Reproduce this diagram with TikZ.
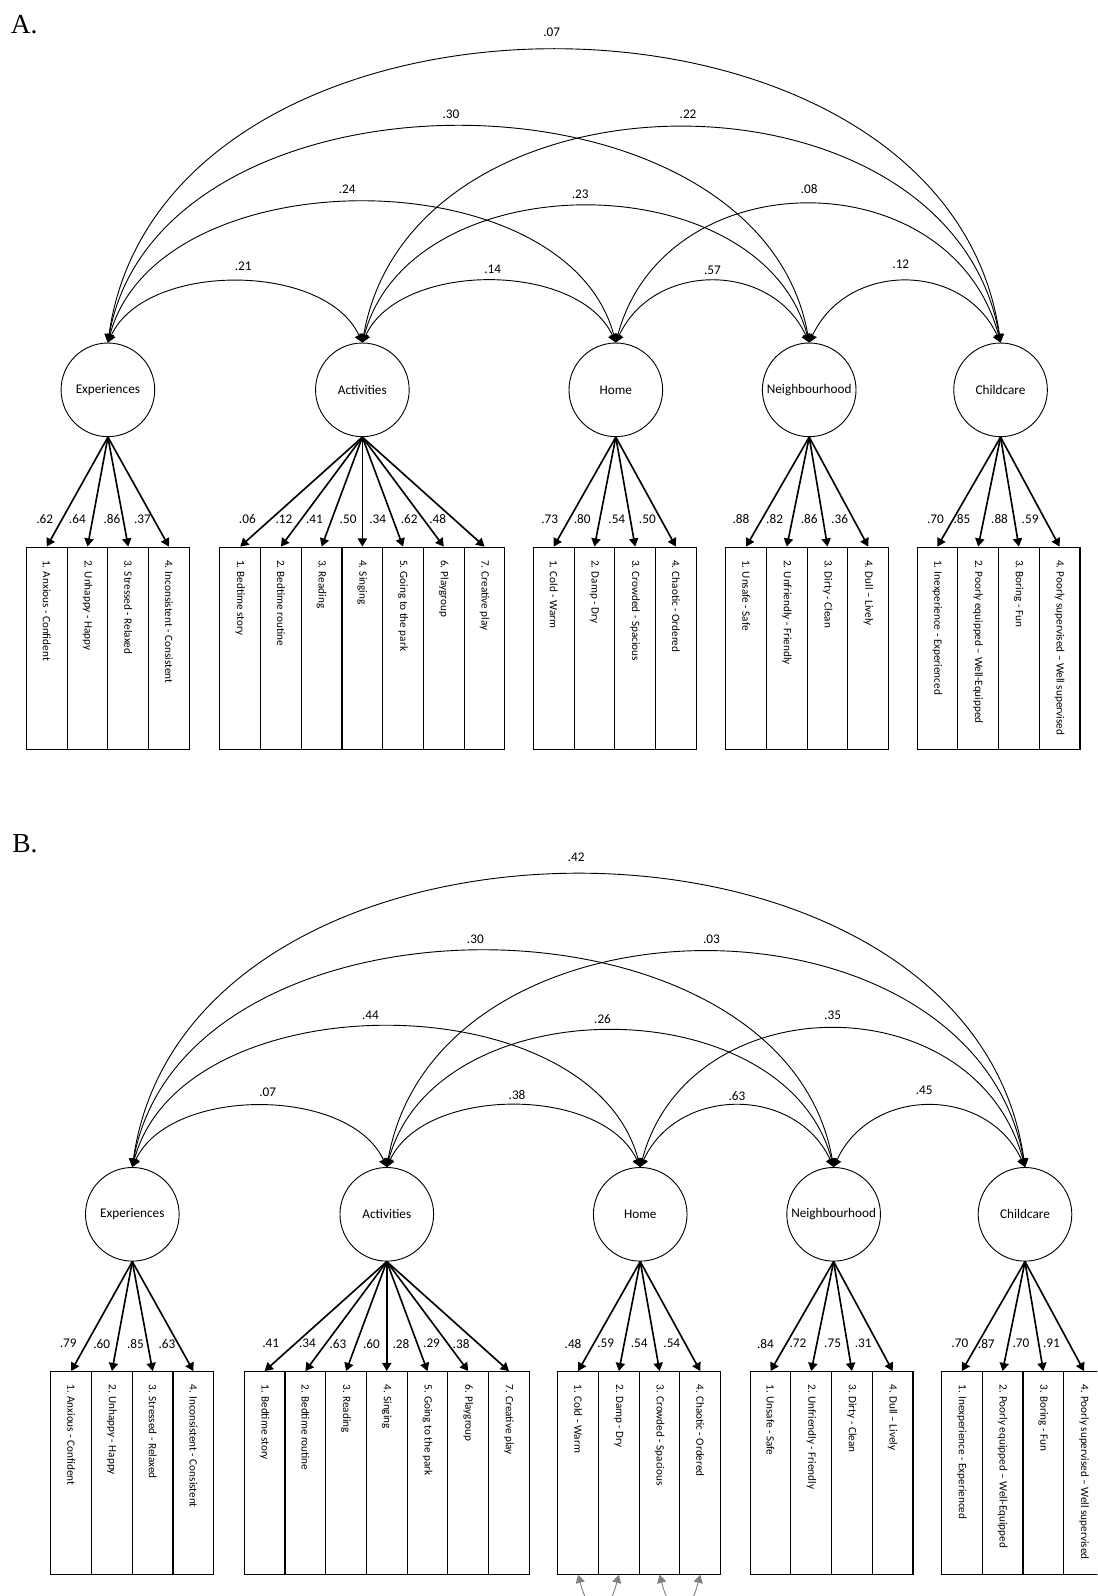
\documentclass[tikz,border=0pt]{standalone}
\usepackage{fontspec}
\setmainfont{Carlito}
\newfontfamily\letterfont{Liberation Serif}
\usetikzlibrary{arrows.meta}

\begin{document}
\begin{tikzpicture}[x=1pt,y=1pt]

\tikzset{latent/.style = {shape=circle,draw,line width=0.9pt,minimum size=92pt,inner sep=0pt,font=\fontsize{13}{15}\selectfont}}
\tikzset{item/.style = {shape=rectangle,draw,line width=1.1pt,minimum width=40pt,minimum height=199pt,anchor=north,inner sep=0pt}}
\tikzset{itemtext/.style = {rotate=-90,anchor=west,inner sep=0pt,font=\fontsize{11}{13}\selectfont}}
\tikzset{coef/.style = {inner sep=0pt,font=\fontsize{13}{15}\selectfont}}
\tikzset{panel/.style = {anchor=base west,inner sep=0pt,font=\letterfont\fontsize{27}{30}\selectfont}}
\tikzset{load/.style = {-{Triangle[length=8pt,width=9pt]},line width=1.6pt}}
\tikzset{cov/.style = {{Triangle[length=8pt,width=9pt]}-{Triangle[length=8pt,width=9pt]},line width=0.9pt}}
\tikzset{resid/.style = {cov,color=gray}}

\useasboundingbox (0,0) rectangle (1078,-1568);
\clip (0,0) rectangle (1078,-1568);

%%%%%%%%%% A.
\node[panel] (labA) at (10.5,-32.5) {A.};

% factors
\node[latent] (Aexp)  at (106,-383) {Experiences};
\node[latent] (Aact)  at (356,-383) {Activities};
\node[latent] (Ahome) at (605,-383) {Home};
\node[latent] (Anbh)  at (795,-383) {Neighbourhood};
\node[latent] (Acare) at (983,-383) {Childcare};

% items
\foreach \txt [count=\i] in {1. Anxious - Confident,2. Unhappy - Happy,3. Stressed - Relaxed,4. Inconsistent - Consistent}{
  \node[item] (Aexp\i) at (6+40*\i,-537) {};
  \node[itemtext] (Aexpt\i) at ([yshift=-13pt]Aexp\i.north) {\txt};
  \draw[load] (Aexp.south) -- (Aexp\i.north);
}
\foreach \txt [count=\i] in {1. Bedtime story,2. Bedtime routine,3. Reading,4. Singing,5. Going to the park,6. Playgroup,7. Creative play}{
  \node[item] (Aact\i) at (196+40*\i,-537) {};
  \node[itemtext] (Aactt\i) at ([yshift=-13pt]Aact\i.north) {\txt};
  \draw[load] (Aact.south) -- (Aact\i.north);
}
\foreach \txt [count=\i] in {1. Cold - Warm,2. Damp - Dry,3. Crowded - Spacious,4. Chaotic - Ordered}{
  \node[item] (Ahome\i) at (504+40*\i,-537) {};
  \node[itemtext] (Ahomet\i) at ([yshift=-13pt]Ahome\i.north) {\txt};
  \draw[load] (Ahome.south) -- (Ahome\i.north);
}
\foreach \txt [count=\i] in {1. Unsafe - Safe,2. Unfriendly - Friendly,3. Dirty - Clean,4. Dull – Lively}{
  \node[item] (Anbh\i) at (693+40*\i,-537) {};
  \node[itemtext] (Anbht\i) at ([yshift=-13pt]Anbh\i.north) {\txt};
  \draw[load] (Anbh.south) -- (Anbh\i.north);
}
\foreach \txt [count=\i] in {1. Inexperience - Experienced,2. Poorly equipped – Well-Equipped,3. Boring - Fun,4. Poorly supervised – Well supervised}{
  \node[item] (Acare\i) at (881+40*\i,-537) {};
  \node[itemtext] (Acaret\i) at ([yshift=-13pt]Acare\i.north) {\txt};
  \draw[load] (Acare.south) -- (Acare\i.north);
}

% loadings
\foreach \x/\val [count=\i] in {44/.62,76/.64,110/.86,140/.37}{\node[coef] (Aexpl\i) at (\x,-510) {\val};}
\foreach \x/\val [count=\i] in {243/.06,279/.12,309/.41,342/.50,371/.34,402/.62,430/.48}{\node[coef] (Aactl\i) at (\x,-510) {\val};}
\foreach \x/\val [count=\i] in {540/.73,572/.80,606/.54,636/.50}{\node[coef] (Ahomel\i) at (\x,-510) {\val};}
\foreach \x/\val [count=\i] in {728/.88,761/.82,795/.86,825/.36}{\node[coef] (Anbhl\i) at (\x,-510) {\val};}
\foreach \x/\val [count=\i] in {919/.70,945/.85,982/.88,1012/.59}{\node[coef] (Acarel\i) at (\x,-510) {\val};}

% covariances
\draw[cov] (Aexp.north) to[out=65,in=115,looseness=0.90] (Aact.north);
\draw[cov] (Aact.north) to[out=65,in=115,looseness=0.91] (Ahome.north);
\draw[cov] (Ahome.north) to[out=65,in=115,looseness=1.19] (Anbh.north);
\draw[cov] (Anbh.north) to[out=65,in=115,looseness=1.20] (Acare.north);
\draw[cov] (Aexp.north) to[out=75,in=105,looseness=0.975] (Ahome.north);
\draw[cov] (Aact.north) to[out=75,in=105,looseness=1.076] (Anbh.north);
\draw[cov] (Ahome.north) to[out=75,in=105,looseness=1.268] (Acare.north);
\draw[cov] (Aexp.north) to[out=80,in=100,looseness=1.066] (Anbh.north);
\draw[cov] (Aact.north) to[out=80,in=100,looseness=1.167] (Acare.north);
\draw[cov] (Aexp.north) to[out=82,in=98,looseness=1.129] (Acare.north);

\node[coef] (Ac1) at (239,-262) {.21};
\node[coef] (Ac2) at (484,-265) {.14};
\node[coef] (Ac3) at (700,-266) {.57};
\node[coef] (Ac4) at (885,-260) {.12};
\node[coef] (Ac5) at (341,-186) {.24};
\node[coef] (Ac6) at (570,-191) {.23};
\node[coef] (Ac7) at (795,-186) {.08};
\node[coef] (Ac8) at (443,-112) {.30};
\node[coef] (Ac9) at (676,-112) {.22};
\node[coef] (Ac10) at (542,-32) {.07};

%%%%%%%%%% B.
\node[panel] (labB) at (12,-838) {B.};

\begin{scope}[shift={(24,-810)}]
% factors
\node[latent] (Bexp)  at (106,-383) {Experiences};
\node[latent] (Bact)  at (356,-383) {Activities};
\node[latent] (Bhome) at (605,-383) {Home};
\node[latent] (Bnbh)  at (795,-383) {Neighbourhood};
\node[latent] (Bcare) at (983,-383) {Childcare};

% items
\foreach \txt [count=\i] in {1. Anxious - Confident,2. Unhappy - Happy,3. Stressed - Relaxed,4. Inconsistent - Consistent}{
  \node[item] (Bexp\i) at (6+40*\i,-537) {};
  \node[itemtext] (Bexpt\i) at ([yshift=-13pt]Bexp\i.north) {\txt};
  \draw[load] (Bexp.south) -- (Bexp\i.north);
}
\foreach \txt [count=\i] in {1. Bedtime story,2. Bedtime routine,3. Reading,4. Singing,5. Going to the park,6. Playgroup,7. Creative play}{
  \node[item] (Bact\i) at (196+40*\i,-537) {};
  \node[itemtext] (Bactt\i) at ([yshift=-13pt]Bact\i.north) {\txt};
  \draw[load] (Bact.south) -- (Bact\i.north);
}
\foreach \txt [count=\i] in {1. Cold - Warm,2. Damp - Dry,3. Crowded - Spacious,4. Chaotic - Ordered}{
  \node[item] (Bhome\i) at (504+40*\i,-537) {};
  \node[itemtext] (Bhomet\i) at ([yshift=-13pt]Bhome\i.north) {\txt};
  \draw[load] (Bhome.south) -- (Bhome\i.north);
}
\foreach \txt [count=\i] in {1. Unsafe - Safe,2. Unfriendly - Friendly,3. Dirty - Clean,4. Dull – Lively}{
  \node[item] (Bnbh\i) at (693+40*\i,-537) {};
  \node[itemtext] (Bnbht\i) at ([yshift=-13pt]Bnbh\i.north) {\txt};
  \draw[load] (Bnbh.south) -- (Bnbh\i.north);
}
\foreach \txt [count=\i] in {1. Inexperience - Experienced,2. Poorly equipped – Well-Equipped,3. Boring - Fun,4. Poorly supervised – Well supervised}{
  \node[item] (Bcare\i) at (881+40*\i,-537) {};
  \node[itemtext] (Bcaret\i) at ([yshift=-13pt]Bcare\i.north) {\txt};
  \draw[load] (Bcare.south) -- (Bcare\i.north);
}

% loadings
\foreach \x/\val [count=\i] in {43/.79,76/.60,109/.85,140/.63}{\node[coef] (Bexpl\i) at (\x,-510) {\val};}
\foreach \x/\val [count=\i] in {242/.41,278/.34,308/.63,341/.60,370/.28,400/.29,429/.38}{\node[coef] (Bactl\i) at (\x,-510) {\val};}
\foreach \x/\val [count=\i] in {539/.48,571/.59,604/.54,636/.54}{\node[coef] (Bhomel\i) at (\x,-510) {\val};}
\foreach \x/\val [count=\i] in {728/.84,760/.72,794/.75,824/.31}{\node[coef] (Bnbhl\i) at (\x,-510) {\val};}
\foreach \x/\val [count=\i] in {919/.70,945/.87,979/.70,1009/.91}{\node[coef] (Bcarel\i) at (\x,-510) {\val};}

% covariances
\draw[cov] (Bexp.north) to[out=65,in=115,looseness=0.90] (Bact.north);
\draw[cov] (Bact.north) to[out=65,in=115,looseness=0.91] (Bhome.north);
\draw[cov] (Bhome.north) to[out=65,in=115,looseness=1.19] (Bnbh.north);
\draw[cov] (Bnbh.north) to[out=65,in=115,looseness=1.20] (Bcare.north);
\draw[cov] (Bexp.north) to[out=75,in=105,looseness=0.975] (Bhome.north);
\draw[cov] (Bact.north) to[out=75,in=105,looseness=1.076] (Bnbh.north);
\draw[cov] (Bhome.north) to[out=75,in=105,looseness=1.268] (Bcare.north);
\draw[cov] (Bexp.north) to[out=80,in=100,looseness=1.066] (Bnbh.north);
\draw[cov] (Bact.north) to[out=80,in=100,looseness=1.167] (Bcare.north);
\draw[cov] (Bexp.north) to[out=82,in=98,looseness=1.129] (Bcare.north);

\node[coef] (Bc1) at (239,-263) {.07};
\node[coef] (Bc2) at (484,-266) {.38};
\node[coef] (Bc3) at (700,-267) {.63};
\node[coef] (Bc4) at (884,-261) {.45};
\node[coef] (Bc5) at (340,-187) {.44};
\node[coef] (Bc6) at (568,-191) {.26};
\node[coef] (Bc7) at (794,-187) {.35};
\node[coef] (Bc8) at (443,-113) {.30};
\node[coef] (Bc9) at (675,-113) {.03};
\node[coef] (Bc10) at (542,-32) {.42};

% residual covariances (cut off by the page)
\draw[resid] (Bhome1.south) to[out=-75,in=-105,looseness=3] (Bhome2.south);
\draw[resid] (Bhome3.south) to[out=-75,in=-105,looseness=3] (Bhome4.south);
\end{scope}
\end{tikzpicture}
\end{document}
